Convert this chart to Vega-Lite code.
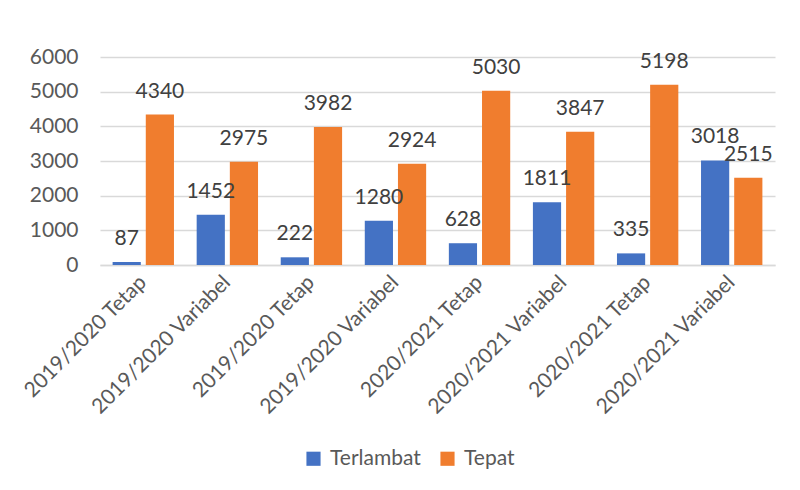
{
  "$schema": "https://vega.github.io/schema/vega-lite/v6.json",
  "autosize": "none",
  "width": 675,
  "height": 208,
  "padding": {"left": 100, "top": 57, "right": 25, "bottom": 225},
  "background": "white",
  "config": {
    "font": "Lato",
    "view": {"stroke": null}
  },
  "data": {
    "values": [
      {"idx": 1, "kategori": "2019/2020 Tetap", "seri": "Terlambat", "nilai": 87},
      {"idx": 1, "kategori": "2019/2020 Tetap", "seri": "Tepat", "nilai": 4340},
      {"idx": 2, "kategori": "2019/2020 Variabel", "seri": "Terlambat", "nilai": 1452},
      {"idx": 2, "kategori": "2019/2020 Variabel", "seri": "Tepat", "nilai": 2975},
      {"idx": 3, "kategori": "2019/2020 Tetap", "seri": "Terlambat", "nilai": 222},
      {"idx": 3, "kategori": "2019/2020 Tetap", "seri": "Tepat", "nilai": 3982},
      {"idx": 4, "kategori": "2019/2020 Variabel", "seri": "Terlambat", "nilai": 1280},
      {"idx": 4, "kategori": "2019/2020 Variabel", "seri": "Tepat", "nilai": 2924},
      {"idx": 5, "kategori": "2020/2021 Tetap", "seri": "Terlambat", "nilai": 628},
      {"idx": 5, "kategori": "2020/2021 Tetap", "seri": "Tepat", "nilai": 5030},
      {"idx": 6, "kategori": "2020/2021 Variabel", "seri": "Terlambat", "nilai": 1811},
      {"idx": 6, "kategori": "2020/2021 Variabel", "seri": "Tepat", "nilai": 3847},
      {"idx": 7, "kategori": "2020/2021 Tetap", "seri": "Terlambat", "nilai": 335},
      {"idx": 7, "kategori": "2020/2021 Tetap", "seri": "Tepat", "nilai": 5198},
      {"idx": 8, "kategori": "2020/2021 Variabel", "seri": "Terlambat", "nilai": 3018},
      {"idx": 8, "kategori": "2020/2021 Variabel", "seri": "Tepat", "nilai": 2515}
    ]
  },
  "encoding": {
    "x": {
      "field": "idx",
      "type": "ordinal",
      "scale": {"paddingInner": 0.27, "paddingOuter": 0.15},
      "axis": {
        "title": null,
        "labelExpr": "['','2019/2020 Tetap','2019/2020 Variabel','2019/2020 Tetap','2019/2020 Variabel','2020/2021 Tetap','2020/2021 Variabel','2020/2021 Tetap','2020/2021 Variabel'][datum.value]",
        "labelAngle": -45,
        "labelAlign": "right",
        "labelBaseline": "middle",
        "labelFontSize": 21,
        "labelLimit": 0,
        "labelColor": "#595959",
        "labelPadding": 14,
        "ticks": false,
        "domainColor": "#d9d9d9",
        "domainWidth": 1.5
      }
    },
    "xOffset": {
      "field": "seri",
      "type": "nominal",
      "sort": ["Terlambat", "Tepat"],
      "scale": {"paddingInner": 0.15}
    },
    "y": {
      "field": "nilai",
      "type": "quantitative",
      "scale": {"domain": [0, 6000]},
      "axis": {
        "title": null,
        "format": "d",
        "values": [0, 1000, 2000, 3000, 4000, 5000, 6000],
        "labelFontSize": 21,
        "labelColor": "#595959",
        "labelPadding": 22,
        "ticks": false,
        "domain": false,
        "gridColor": "#d9d9d9",
        "gridWidth": 1.5
      }
    }
  },
  "layer": [
    {
      "mark": {"type": "bar"},
      "encoding": {
        "color": {
          "field": "seri",
          "type": "nominal",
          "sort": ["Terlambat", "Tepat"],
          "scale": {"domain": ["Terlambat", "Tepat"], "range": ["#4472C4", "#F07D2E"]},
          "legend": {
            "title": null,
            "orient": "none",
            "direction": "horizontal",
            "legendX": 203,
            "legendY": 391,
            "symbolType": "square",
            "symbolSize": 200,
            "symbolStrokeWidth": 0,
            "labelFontSize": 21,
            "labelColor": "#595959",
            "columnPadding": 16,
            "labelOffset": 6
          }
        }
      }
    },
    {
      "mark": {"type": "text", "baseline": "bottom", "dy": -13, "fontSize": 21, "color": "#404040"},
      "encoding": {
        "text": {"field": "nilai", "type": "quantitative", "format": "d"}
      }
    }
  ]
}
